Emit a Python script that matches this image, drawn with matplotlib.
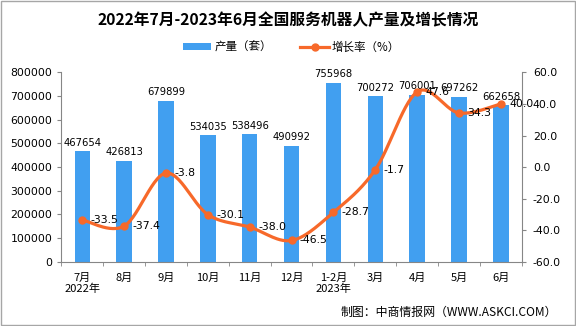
import numpy as np
import matplotlib
matplotlib.use("Agg")
import matplotlib.pyplot as plt
from matplotlib.lines import Line2D
from matplotlib.patches import Patch, Rectangle

plt.rcParams['font.family'] = ['Noto Sans CJK SC', 'DejaVu Sans']

categories = ["7月\n2022年", "8月", "9月", "10月", "11月", "12月", "1-2月\n2023年", "3月", "4月", "5月", "6月"]
production = [467654, 426813, 679899, 534035, 538496, 490992, 755968, 700272, 706001, 697262, 662658]
growth = [-33.5, -37.4, -3.8, -30.1, -38.0, -46.5, -28.7, -1.7, 47.6, 34.3, 40.0]

title = "2022年7月-2023年6月全国服务机器人产量及增长情况"
bar_color = "#419FF0"
line_color = "#F7692A"
axis_color = "#868686"
num_font = "DejaVu Sans"

fig = plt.figure(figsize=(5.76, 3.26), dpi=100)
fig.patch.set_facecolor("white")
fig.add_artist(Rectangle((0.001, 0.002), 0.997, 0.995, transform=fig.transFigure,
                         fill=False, edgecolor="#A6A6A6", linewidth=1.0))

ax = fig.add_axes([0.1065, 0.197, 0.7993, 0.581])
x = np.arange(len(categories))
ax.bar(x, production, width=0.37, color=bar_color, zorder=2)
ax.set_xlim(-0.5, len(categories) - 0.5)
ax.set_ylim(0, 800000)
ax.set_yticks(np.arange(0, 800001, 100000))
ax.set_yticklabels([str(v) for v in range(0, 800001, 100000)], fontsize=7.8, family=num_font)
ax.set_xticks(x)
ax.set_xticklabels(categories, fontsize=8, linespacing=1.05)
ax.tick_params(axis='x', length=0, pad=8)
ax.set_xticks(np.arange(-0.5, len(categories), 1), minor=True)
ax.tick_params(axis='x', which='minor', length=3, color=axis_color)
ax.tick_params(axis='y', length=3, color=axis_color, pad=3.5)
for s in ["top", "right"]:
    ax.spines[s].set_visible(False)
ax.spines["left"].set_color(axis_color)
ax.spines["bottom"].set_color(axis_color)
for xi, v in zip(x, production):
    ax.text(xi, v + 14000, str(v), ha="center", va="bottom", fontsize=7.2,
            family=num_font, zorder=5)

ax2 = ax.twinx()
ax2.set_ylim(-60, 60)
ax2.set_yticks(np.arange(-60, 61, 20))
ax2.set_yticklabels([f"{v:.1f}" for v in np.arange(-60, 61, 20)], fontsize=7.8, family=num_font)
ax2.tick_params(axis='y', length=3, color=axis_color, pad=5)
for s in ["top", "left", "bottom"]:
    ax2.spines[s].set_visible(False)
ax2.spines["right"].set_color(axis_color)

# smooth curve (Catmull-Rom) through the data points
g = np.array(growth, dtype=float)
px, py = [], []
pts = np.column_stack([x, g])
ext = np.vstack([pts[0], pts, pts[-1]])
for i in range(1, len(ext) - 2):
    p0, p1, p2, p3 = ext[i - 1], ext[i], ext[i + 1], ext[i + 2]
    t = np.linspace(0, 1, 30)[:, None]
    seg = 0.5 * ((2 * p1) + (-p0 + p2) * t + (2 * p0 - 5 * p1 + 4 * p2 - p3) * t ** 2
                 + (-p0 + 3 * p1 - 3 * p2 + p3) * t ** 3)
    px.extend(seg[:, 0]); py.extend(seg[:, 1])
ax2.plot(px, py, color=line_color, linewidth=2.3, zorder=3)
ax2.plot(x, g, "o", color=line_color, markersize=5, zorder=4)
for xi, v in zip(x, g):
    ax2.annotate(f"{v:.1f}", (xi, v), xytext=(6, 0), textcoords="offset points",
                 ha="left", va="center", fontsize=7.8, family=num_font, zorder=5)

fig.text(0.5, 0.94, title, ha="center", va="center", fontsize=11.3, fontweight="bold")

handles = [Patch(facecolor=bar_color),
           Line2D([0], [0], color=line_color, linewidth=2.3, marker="o", markersize=5)]
fig.legend(handles, ["产量（套）", "增长率（%）"], loc="center", bbox_to_anchor=(0.506, 0.856),
           ncol=2, frameon=False, fontsize=8.3, handlelength=2.45, handleheight=0.55,
           columnspacing=2.5, handletextpad=0.25)

fig.text(0.967, 0.043, "制图：中商情报网（WWW.ASKCI.COM）", ha="right", va="center", fontsize=8.6)

fig.savefig("out.png", dpi=100)
